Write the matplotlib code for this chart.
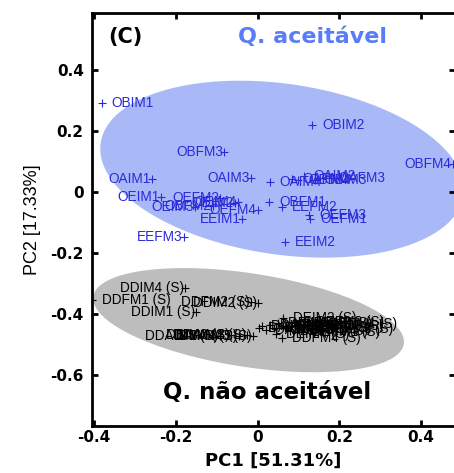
import numpy as np
import matplotlib
matplotlib.use("Agg")
from matplotlib import pyplot as plt

# acceptable samples (blue)
blue_names = ['OBIM1', 'OBIM2', 'OBFM3', 'OBFM4', 'OAIM1', 'OAIM3', 'OAIM4',
              'OAIM2', 'OBIM3', 'OAFM3', 'OBIM4', 'OAFM2', 'OBFM1', 'EEFM2',
              'OEFM3', 'OEFM1', 'EEFM3', 'EEIM2', 'OEIM1', 'OEFM2', 'OEIM3',
              'OEIM4', 'OEFM4', 'EEIM1', 'OEIM2', 'OBFM2']
blue_pc1 = [-0.381, 0.134, -0.081, 0.477, -0.259, -0.016, 0.030,
            0.113, 0.140, 0.175, 0.100, 0.085, 0.029, 0.060,
            0.127, 0.129, -0.181, 0.068, -0.235, -0.091, -0.152,
            -0.047, 0.000, -0.037, -0.055, -0.110]
blue_pc2 = [0.293, 0.220, 0.132, 0.091, 0.043, 0.045, 0.032,
            0.052, 0.040, 0.045, 0.038, 0.043, -0.032, -0.048,
            -0.075, -0.089, -0.146, -0.165, -0.016, -0.020, -0.049,
            -0.033, -0.059, -0.089, -0.036, -0.045]
blue_side = ['r', 'r', 'l', 'l', 'l', 'l', 'r',
             'r', 'r', 'r', 'r', 'r', 'r', 'r',
             'r', 'r', 'l', 'r', 'l', 'l', 'l',
             'l', 'l', 'l', 'l', 'l']

# non acceptable samples (grey)
grey_names = ['DDIM4 (S)', 'DDFM1 (S)', 'DDIM1 (S)', 'DDIM2 (S)', 'DDFM2 (S)',
              'DBAIM3 (S)', 'DDAIM2 (S)', 'DAIM4 (S)', 'DBIM3 (S)', 'DDAIM1 (S)',
              'DEIM2 (S)', 'DDFM4 (S)', 'DAIM1 (S)', 'DAIM2 (S)', 'DAFM1 (S)',
              'DAFM2 (S)', 'DBIM1 (S)', 'DBIM2 (S)', 'DBFM1 (S)', 'DBFM2 (S)',
              'DEIM1 (S)', 'DEFM1 (S)', 'DEFM2 (S)', 'DEIM3 (S)', 'DEFM3 (S)',
              'DBFM4 (S)', 'DAFM4 (S)', 'DEIM4 (S)']
grey_pc1 = [-0.177, -0.405, -0.150, 0.002, -0.015,
            -0.010, -0.025, -0.045, -0.065, -0.093,
            0.063, 0.061, 0.010, 0.020, 0.030,
            0.040, 0.050, 0.070, 0.080, 0.090,
            0.100, 0.110, 0.120, 0.130, 0.140,
            0.150, 0.003, 0.045]
grey_pc2 = [-0.315, -0.354, -0.392, -0.364, -0.362,
            -0.471, -0.469, -0.472, -0.470, -0.471,
            -0.413, -0.479, -0.440, -0.452, -0.435,
            -0.446, -0.428, -0.440, -0.455, -0.430,
            -0.445, -0.460, -0.425, -0.440, -0.450,
            -0.432, -0.445, -0.465]
grey_side = ['l', 'r', 'l', 'l', 'l',
             'l', 'l', 'l', 'l', 'l',
             'r', 'r', 'r', 'r', 'r',
             'r', 'r', 'r', 'r', 'r',
             'r', 'r', 'r', 'r', 'r',
             'r', 'r', 'r']

# confidence ellipses: centre, semi axes, angle (rad)
blue_ell = (0.06, 0.075, 0.453, 0.277, -0.2425)
grey_ell = (-0.022, -0.42, 0.388, 0.152, -0.219)

blue_txt = '#2a2ad8'
blue_fill = '#a9b9f8'
grey_fill = '#bdbdbd'
lab_size = 9.8


def ellipse(ax, e, color):
    cx, cy, a, b, phi = e
    t = np.linspace(0, 2 * np.pi, 300)
    x = cx + a * np.cos(phi) * np.cos(t) - b * np.sin(phi) * np.sin(t)
    y = cy + a * np.sin(phi) * np.cos(t) + b * np.cos(phi) * np.sin(t)
    ax.fill(x, y, color=color, lw=0, zorder=1)


def labels(ax, xs, ys, names, sides, color):
    ax.plot(xs, ys, '+', color=color, ms=6, mew=0.8, zorder=3)
    for x, y, n, s in zip(xs, ys, names, sides):
        if s == 'r':
            ax.annotate(n, (x, y), xytext=(7, 0), textcoords='offset points',
                        ha='left', va='center', fontsize=lab_size, color=color,
                        family='Liberation Sans', zorder=4)
        else:
            ax.annotate(n, (x, y), xytext=(-1, 0), textcoords='offset points',
                        ha='right', va='center', fontsize=lab_size, color=color,
                        family='Liberation Sans', zorder=4)


fig = plt.figure(figsize=(4.54, 4.73), dpi=100)
ax = fig.add_axes([0.2026, 0.0994, 0.7996, 0.8731])

ellipse(ax, blue_ell, blue_fill)
ellipse(ax, grey_ell, grey_fill)
labels(ax, blue_pc1, blue_pc2, blue_names, blue_side, blue_txt)
labels(ax, grey_pc1, grey_pc2, grey_names, grey_side, 'black')

ax.set_xlim(-0.405, 0.483)
ax.set_ylim(-0.767, 0.587)
ax.set_xticks([-0.4, -0.2, 0, 0.2, 0.4])
ax.set_xticklabels(['-0.4', '-0.2', '0', '0.2', '0.4'])
ax.set_yticks([-0.6, -0.4, -0.2, 0, 0.2, 0.4])
ax.set_yticklabels(['-0.6', '-0.4', '-0.2', '0', '0.2', '0.4'])
ax.tick_params(direction='in', length=4, width=2, top=True, right=True,
               labelsize=11)
ax.tick_params(axis='x', pad=3)
ax.tick_params(axis='y', pad=6)
for lb in ax.get_xticklabels() + ax.get_yticklabels():
    lb.set_fontweight('bold')
for sp in ax.spines.values():
    sp.set_linewidth(2)

ax.set_xlabel('PC1 [51.31%]', fontsize=13, fontweight='bold', labelpad=5)
ax.set_ylabel('PC2 [17.33%]', fontsize=13, family='Liberation Sans', labelpad=7)

ax.text(0.045, 0.942, '(C)', transform=ax.transAxes, fontsize=15,
        fontweight='bold', va='center')
ax.text(0.607, 0.942, 'Q. aceitável', transform=ax.transAxes, fontsize=16,
        fontweight='bold', color='#5b7cf7', ha='center', va='center')
ax.text(0.483, 0.080, 'Q. não aceitável', transform=ax.transAxes, fontsize=16.5,
        fontweight='bold', color='black', ha='center', va='center')

fig.savefig('out.png', dpi=100)
